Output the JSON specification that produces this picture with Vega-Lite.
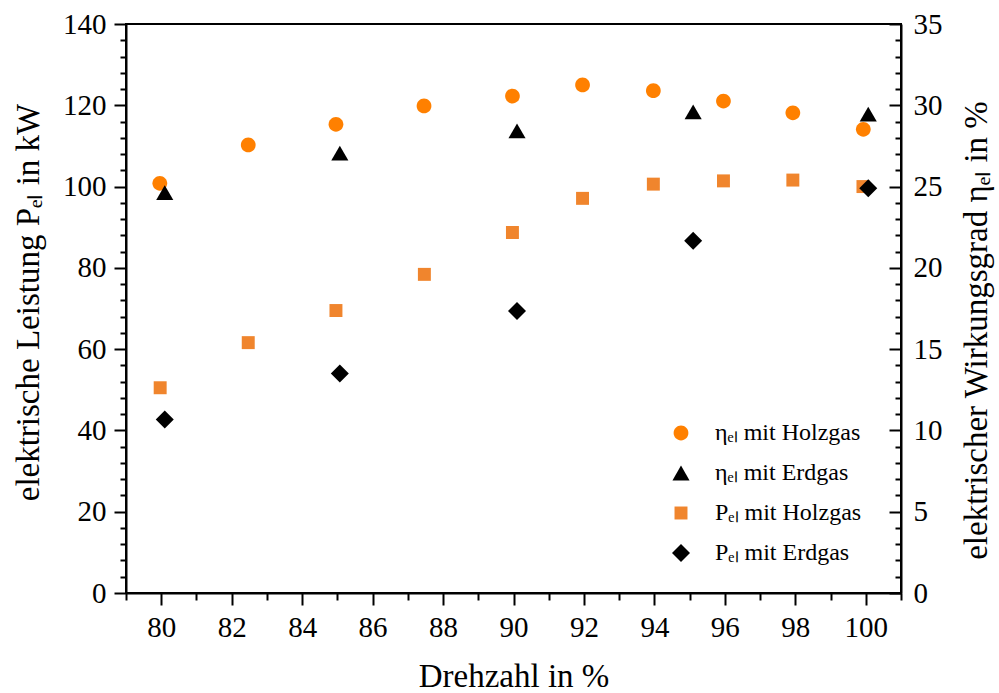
{
  "$schema": "https://vega.github.io/schema/vega-lite/v6.json",
  "autosize": "none",
  "width": 775,
  "height": 569,
  "padding": {"left": 126, "top": 24, "right": 98, "bottom": 100},
  "background": "white",
  "config": {
    "font": "Liberation Serif",
    "view": {"stroke": "black", "strokeWidth": 2},
    "axis": {
      "domainColor": "black", "domainWidth": 2, "tickColor": "black", "tickWidth": 2,
      "labelFont": "Liberation Serif", "labelFontSize": 29, "labelColor": "black",
      "titleFont": "Liberation Serif", "titleFontSize": 33, "titleFontWeight": "normal", "titleColor": "black",
      "grid": false
    },
    "legend": {"labelFont": "Liberation Serif", "labelFontSize": 24, "labelColor": "black"}
  },
  "data": {
    "values": [
      {"drehzahl": 79.96, "wert": 25.2, "serie": "ηₑₗ mit Holzgas", "groesse": "eta"},
      {"drehzahl": 82.47, "wert": 27.56, "serie": "ηₑₗ mit Holzgas", "groesse": "eta"},
      {"drehzahl": 84.96, "wert": 28.83, "serie": "ηₑₗ mit Holzgas", "groesse": "eta"},
      {"drehzahl": 87.46, "wert": 29.96, "serie": "ηₑₗ mit Holzgas", "groesse": "eta"},
      {"drehzahl": 89.97, "wert": 30.57, "serie": "ηₑₗ mit Holzgas", "groesse": "eta"},
      {"drehzahl": 91.96, "wert": 31.25, "serie": "ηₑₗ mit Holzgas", "groesse": "eta"},
      {"drehzahl": 93.97, "wert": 30.9, "serie": "ηₑₗ mit Holzgas", "groesse": "eta"},
      {"drehzahl": 95.96, "wert": 30.26, "serie": "ηₑₗ mit Holzgas", "groesse": "eta"},
      {"drehzahl": 97.93, "wert": 29.54, "serie": "ηₑₗ mit Holzgas", "groesse": "eta"},
      {"drehzahl": 99.93, "wert": 28.52, "serie": "ηₑₗ mit Holzgas", "groesse": "eta"},
      {"drehzahl": 80.1, "wert": 24.63, "serie": "ηₑₗ mit Erdgas", "groesse": "eta"},
      {"drehzahl": 85.07, "wert": 27.05, "serie": "ηₑₗ mit Erdgas", "groesse": "eta"},
      {"drehzahl": 90.1, "wert": 28.43, "serie": "ηₑₗ mit Erdgas", "groesse": "eta"},
      {"drehzahl": 95.1, "wert": 29.6, "serie": "ηₑₗ mit Erdgas", "groesse": "eta"},
      {"drehzahl": 100.07, "wert": 29.45, "serie": "ηₑₗ mit Erdgas", "groesse": "eta"},
      {"drehzahl": 79.97, "wert": 50.5, "serie": "Pₑₗ mit Holzgas", "groesse": "P"},
      {"drehzahl": 82.47, "wert": 61.6, "serie": "Pₑₗ mit Holzgas", "groesse": "P"},
      {"drehzahl": 84.96, "wert": 69.5, "serie": "Pₑₗ mit Holzgas", "groesse": "P"},
      {"drehzahl": 87.47, "wert": 78.4, "serie": "Pₑₗ mit Holzgas", "groesse": "P"},
      {"drehzahl": 89.97, "wert": 88.7, "serie": "Pₑₗ mit Holzgas", "groesse": "P"},
      {"drehzahl": 91.96, "wert": 97.1, "serie": "Pₑₗ mit Holzgas", "groesse": "P"},
      {"drehzahl": 93.97, "wert": 100.6, "serie": "Pₑₗ mit Holzgas", "groesse": "P"},
      {"drehzahl": 95.96, "wert": 101.4, "serie": "Pₑₗ mit Holzgas", "groesse": "P"},
      {"drehzahl": 97.93, "wert": 101.6, "serie": "Pₑₗ mit Holzgas", "groesse": "P"},
      {"drehzahl": 99.92, "wert": 100.0, "serie": "Pₑₗ mit Holzgas", "groesse": "P"},
      {"drehzahl": 80.1, "wert": 42.7, "serie": "Pₑₗ mit Erdgas", "groesse": "P"},
      {"drehzahl": 85.07, "wert": 54.0, "serie": "Pₑₗ mit Erdgas", "groesse": "P"},
      {"drehzahl": 90.1, "wert": 69.4, "serie": "Pₑₗ mit Erdgas", "groesse": "P"},
      {"drehzahl": 95.1, "wert": 86.7, "serie": "Pₑₗ mit Erdgas", "groesse": "P"},
      {"drehzahl": 100.07, "wert": 99.6, "serie": "Pₑₗ mit Erdgas", "groesse": "P"}
    ]
  },
  "layer": [
    {
      "transform": [{"filter": "datum.groesse === 'P'"}],
      "mark": {"type": "point", "filled": true, "opacity": 1, "strokeWidth": 0, "size": 324},
      "encoding": {
        "x": {"field": "drehzahl", "type": "quantitative", "scale": {"domain": [79, 101], "nice": false, "zero": false},
          "axis": {"orient": "bottom", "values": [80, 82, 84, 86, 88, 90, 92, 94, 96, 98, 100], "tickSize": 12, "labelPadding": 8,
            "title": "Drehzahl in %", "titleBaseline": "alphabetic", "titleAnchor": "middle", "titleY": 93, "labelFlush": false}},
        "y": {"field": "wert", "type": "quantitative", "scale": {"domain": [0, 140], "nice": false},
          "axis": {"orient": "left", "values": [0, 20, 40, 60, 80, 100, 120, 140], "tickSize": 12, "labelPadding": 8,
            "title": "elektrische Leistung Pₑₗ in kW", "titleAngle": -90, "titleAlign": "center", "titleBaseline": "alphabetic", "titleX": -88, "titleY": 278}},
        "color": {"field": "serie", "type": "nominal",
          "scale": {"domain": ["ηₑₗ mit Holzgas", "ηₑₗ mit Erdgas", "Pₑₗ mit Holzgas", "Pₑₗ mit Erdgas"], "range": ["#ff8000", "#000000", "#f0852d", "#000000"]},
          "legend": {"orient": "none", "legendX": 543, "legendY": 397, "title": null, "padding": 0, "rowPadding": 16, "labelOffset": 22, "symbolStrokeWidth": 0, "symbolSize": 324}},
        "shape": {"field": "serie", "type": "nominal",
          "scale": {"domain": ["ηₑₗ mit Holzgas", "ηₑₗ mit Erdgas", "Pₑₗ mit Holzgas", "Pₑₗ mit Erdgas"],
            "range": ["M0.82,0A0.82,0.82,0,1,1,-0.82,0A0.82,0.82,0,1,1,0.82,0Z", "M0,-0.82L0.95,0.82L-0.95,0.82Z", "M-0.72,-0.72H0.72V0.72H-0.72Z", "M0,-1L1,0L0,1L-1,0Z"]}}
      }
    },
    {
      "transform": [{"filter": "datum.groesse === 'P'"}],
      "mark": {"type": "point", "opacity": 0},
      "encoding": {
        "x": {"field": "drehzahl", "type": "quantitative", "scale": {"domain": [79, 101], "nice": false, "zero": false},
          "axis": {"orient": "bottom", "values": [79, 81, 83, 85, 87, 89, 91, 93, 95, 97, 99, 101], "tickSize": 7, "labels": false, "domain": false, "title": null}},
        "y": {"field": "wert", "type": "quantitative", "scale": {"domain": [0, 140], "nice": false},
          "axis": {"orient": "left", "values": [4, 8, 12, 16, 24, 28, 32, 36, 44, 48, 52, 56, 64, 68, 72, 76, 84, 88, 92, 96, 104, 108, 112, 116, 124, 128, 132, 136], "tickSize": 6, "labels": false, "domain": false, "title": null}}
      }
    },
    {
      "transform": [{"filter": "datum.groesse === 'eta'"}],
      "mark": {"type": "point", "filled": true, "opacity": 1, "strokeWidth": 0, "size": 324},
      "encoding": {
        "x": {"field": "drehzahl", "type": "quantitative", "scale": {"domain": [79, 101], "nice": false, "zero": false}, "axis": null},
        "y": {"field": "wert", "type": "quantitative", "scale": {"domain": [0, 35], "nice": false},
          "axis": {"orient": "right", "values": [0, 5, 10, 15, 20, 25, 30, 35], "tickSize": -12, "labelPadding": 24,
            "title": "elektrischer Wirkungsgrad ηₑₗ in %", "titleAngle": -90, "titleAlign": "center", "titleBaseline": "alphabetic", "titleX": 85, "titleY": 306}},
        "color": {"field": "serie", "type": "nominal"},
        "shape": {"field": "serie", "type": "nominal"}
      }
    },
    {
      "transform": [{"filter": "datum.groesse === 'eta'"}],
      "mark": {"type": "point", "opacity": 0},
      "encoding": {
        "x": {"field": "drehzahl", "type": "quantitative", "scale": {"domain": [79, 101], "nice": false, "zero": false}, "axis": null},
        "y": {"field": "wert", "type": "quantitative", "scale": {"domain": [0, 35], "nice": false},
          "axis": {"orient": "right", "values": [1, 2, 3, 4, 6, 7, 8, 9, 11, 12, 13, 14, 16, 17, 18, 19, 21, 22, 23, 24, 26, 27, 28, 29, 31, 32, 33, 34], "tickSize": -6, "labels": false, "domain": false, "title": null}}
      }
    }
  ],
  "resolve": {"scale": {"y": "independent"}, "axis": {"x": "independent", "y": "independent"}}
}
